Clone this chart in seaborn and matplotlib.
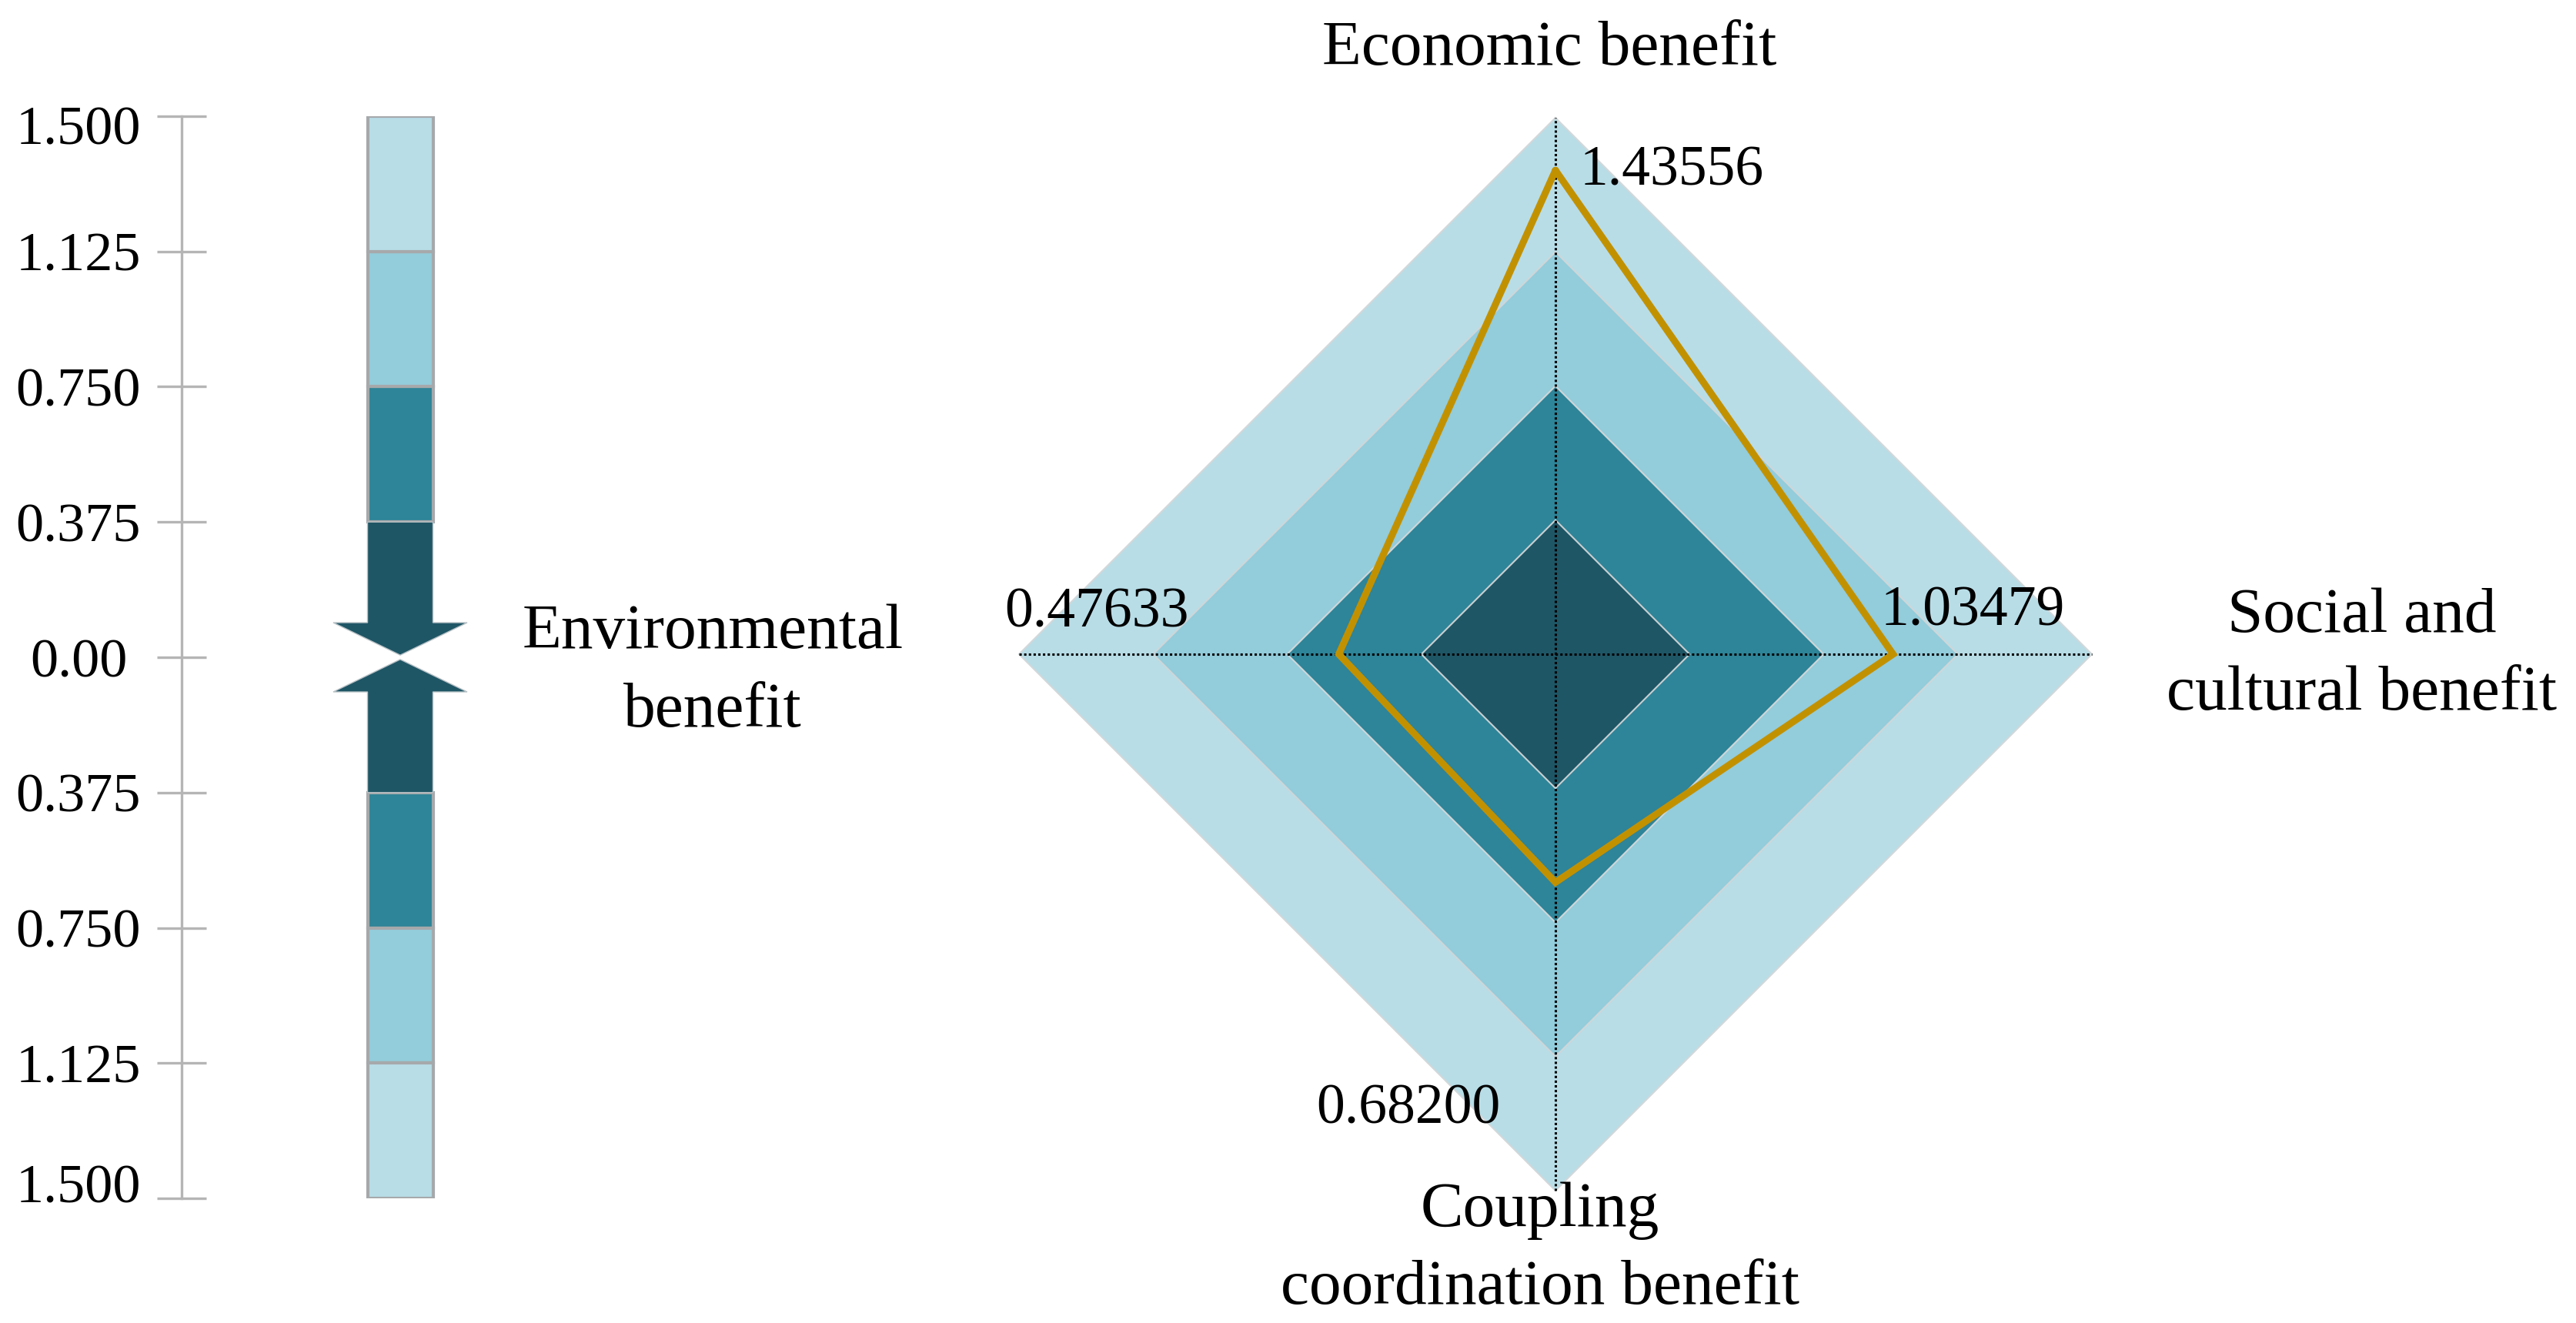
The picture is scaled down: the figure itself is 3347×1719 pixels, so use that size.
import numpy as np
import pandas as pd
import seaborn as sns
import matplotlib.pyplot as plt
import matplotlib.transforms as mtransforms

# data
levels = [0.375, 0.75, 1.125, 1.5]
level_colors = ["#1f5666", "#2e8498", "#93ccdb", "#b8dde7"]
tick_values = [1.5, 1.125, 0.75, 0.375, 0.0, -0.375, -0.75, -1.125, -1.5]
tick_labels = ["1.500", "1.125", "0.750", "0.375", "0.00", "0.375", "0.750", "1.125", "1.500"]

categories = ["Economic benefit", "Social and\ncultural benefit",
              "Coupling\ncoordination benefit", "Environmental\nbenefit"]
plot_values = [1.353, 0.944, 0.638, 0.606]   # where the line is drawn
value_labels = ["1.43556", "1.03479", "0.68200", "0.47633"]

sns.set_theme(style="white")
plt.rcParams["font.family"] = ["Liberation Serif", "DejaVu Serif"]
plt.rcParams["text.color"] = "black"

fig = plt.figure(figsize=(33.47, 17.19), dpi=100)
W, H = 3347, 1719

def box(x0, y0, x1, y1):
    # pixel box (top-left origin) -> figure fraction
    return [x0 / W, (H - y1) / H, (x1 - x0) / W, (y1 - y0) / H]

grey = "#b5b5b5"
edge = "#a6a9ab"

# ---------------- left scale bar ----------------
ax1 = fig.add_axes(box(236, 151, 1336, 1557))
ax1.set_xlim(0, 1100)
ax1.set_ylim(-1.5, 1.5)
ax1.set_facecolor("none")
for s in ["top", "right", "bottom"]:
    ax1.spines[s].set_visible(False)
ax1.spines["left"].set_color(grey)
ax1.spines["left"].set_linewidth(2.4)
ax1.set_xticks([])
ax1.set_yticks(tick_values)
ax1.set_yticklabels(tick_labels)
ax1.tick_params(axis="y", direction="inout", length=46, width=2.4, color=grey,
                pad=73.5, labelsize=52, labelcolor="black", left=True)
plt.setp(ax1.get_yticklabels(), ha="center", va="center")
for i, lab in enumerate(ax1.get_yticklabels()):
    dy = -5.4
    if tick_values[i] == 1.5:
        dy -= 8.6
    if tick_values[i] == -1.5:
        dy += 14
    lab.set_transform(lab.get_transform() + mtransforms.ScaledTranslation(0, dy / 72, fig.dpi_scale_trans))

bar_x = 284
bar_w = 85
head_w = 174
head_len = 0.09
tip = 0.006

for sign in [1, -1]:
    for i in range(1, len(levels)):
        lo, hi = levels[i - 1], levels[i]
        ax1.bar(bar_x, sign * (hi - lo), bottom=sign * lo, width=bar_w,
                color=level_colors[i], edgecolor=edge, linewidth=3.0, zorder=2)
    # dark arrow segment pointing to zero
    base = tip + head_len
    xs = [bar_x - bar_w / 2, bar_x + bar_w / 2, bar_x + bar_w / 2, bar_x + head_w / 2,
          bar_x, bar_x - head_w / 2, bar_x - bar_w / 2]
    ys = [levels[0], levels[0], base, base, tip, base, base]
    ax1.fill(xs, [sign * y for y in ys], color=level_colors[0],
             edgecolor="#b9c2c6", linewidth=1.0, zorder=2)

ax1.text(690, -0.230, categories[3], ha="center", va="bottom", fontsize=60,
         linespacing=1.45, color="black")

# ---------------- radar ----------------
ax2 = fig.add_axes(box(1271, 100, 2771, 1600))
lim = 750 / (697 / 1.5)
ax2.set_xlim(-lim, lim)
ax2.set_ylim(-lim, lim)
ax2.set_aspect("equal")
ax2.axis("off")

ring_edges = ["#c8d0d2", "#cfd6d8", "#cfd6d8", "#d2d8da"]
for r, c, ec in reversed(list(zip(levels, level_colors, ring_edges))):
    ax2.fill([0, r, 0, -r], [r, 0, -r, 0], color=c, edgecolor=ec, linewidth=1.5, zorder=1)

R = levels[-1]
ax2.plot([-R, R], [0, 0], color="black", lw=2.2, ls=(0, (1.0, 1.0)), zorder=2)
ax2.plot([0, 0], [-R, R], color="black", lw=2.2, ls=(0, (1.0, 1.0)), zorder=2)

angles = np.deg2rad([90, 0, -90, 180])
px = [v * np.cos(a) for v, a in zip(plot_values, angles)]
py = [v * np.sin(a) for v, a in zip(plot_values, angles)]
line_df = pd.DataFrame({"x": px + px[:1], "y": py + py[:1]})
sns.lineplot(data=line_df, x="x", y="y", sort=False, estimator=None, ax=ax2,
             color="#c29100", lw=6.5, zorder=3)
ax2.lines[-1].set_solid_joinstyle("miter")
ax2.set_xlabel("")
ax2.set_ylabel("")

# value labels
ax2.text(0.067, 1.311, value_labels[0], ha="left", va="baseline", fontsize=53)
ax2.text(0.910, 0.080, value_labels[1], ha="left", va="baseline", fontsize=53)
ax2.text(-0.153, -1.311, value_labels[2], ha="right", va="baseline", fontsize=53)
ax2.text(-1.024, 0.077, value_labels[3], ha="right", va="baseline", fontsize=53)

# category labels
ax2.text(-0.017, 1.648, categories[0], ha="center", va="baseline", fontsize=60)
ax2.text(2.255, -0.194, categories[1], ha="center", va="bottom", fontsize=60,
         linespacing=1.45)
ax2.text(-0.043, -1.855, categories[2], ha="center", va="bottom", fontsize=60,
         linespacing=1.45)

fig.savefig("out.png", dpi=100, facecolor="white")
